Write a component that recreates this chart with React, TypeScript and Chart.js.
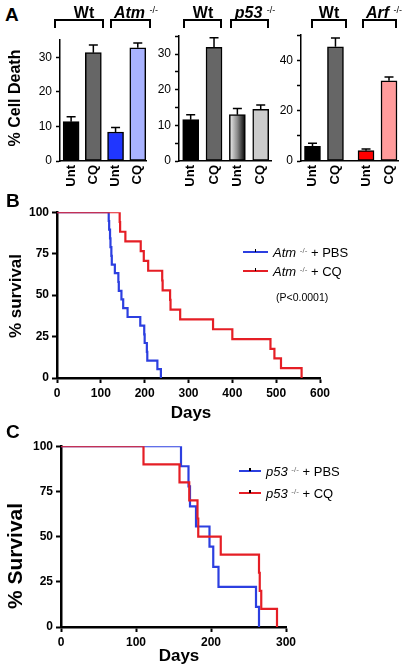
import React, { useEffect, useRef } from 'react';
import { Chart, registerables } from 'chart.js';

Chart.register(...registerables);

const FONT = '"Liberation Sans", Arial, Helvetica, sans-serif';

// ---------- Panel A data ----------
const barLabels = ['Unt', 'CQ', 'Unt', 'CQ'];
const atmBarValues = [11.4, 31.4, 8.4, 32.8];
const atmBarErrors = [1.4, 2.2, 1.3, 1.4];
const p53BarValues = [11.6, 31.9, 13.0, 14.5];
const p53BarErrors = [1.4, 2.7, 1.7, 1.2];
const arfBarValues = [5.8, 45.4, 4.1, 31.9];
const arfBarErrors = [1.3, 3.5, 0.7, 1.5];

// ---------- Panel B data (Kaplan-Meier) ----------
const atmPbsDays = [0, 118, 119, 121, 122, 124, 125, 132, 140, 141, 147, 151, 161, 190, 199, 200, 205, 206, 229, 237];
const atmPbsSurv = [100, 94.7, 89.5, 84.2, 78.9, 73.7, 68.4, 63.2, 57.9, 52.6, 47.4, 42.1, 36.8, 31.6, 26.3, 21.1, 15.8, 10.5, 5.3, 0];
const atmCqDays = [0, 143, 144, 156, 191, 198, 208, 240, 241, 258, 259, 281, 356, 400, 487, 496, 511, 558];
const atmCqSurv = [100, 94.1, 88.2, 82.4, 76.5, 70.6, 64.7, 58.8, 52.9, 47.1, 41.2, 35.3, 29.4, 23.5, 17.6, 11.8, 5.9, 0];

// ---------- Panel C data (Kaplan-Meier) ----------
const p53PbsDays = [0, 160, 170, 172, 180, 198, 203, 210, 260, 264];
const p53PbsSurv = [100, 88.9, 77.8, 66.7, 55.6, 44.4, 33.3, 22.2, 11.1, 0];
const p53CqDays = [0, 110, 158, 171, 182, 183, 213, 264, 265, 267, 288];
const p53CqSurv = [100, 90, 80, 70, 60, 50, 40, 30, 20, 10, 0];

const BLUE = '#2c3fe0';
const RED = '#e51e25';

type Rect = { l: number; t: number; r: number; b: number };

function frameOf(plot: Rect, yW: number, xH: number, pad: Rect) {
  const x = plot.l - yW - pad.l;
  const y = plot.t - pad.t;
  return { x, y, w: plot.r + pad.r - x, h: plot.b + xH + pad.b - y };
}

const errorBarPlugin = {
  id: 'errorBars',
  afterDatasetsDraw(chart: any) {
    const ds = chart.data.datasets[0];
    if (!ds || !ds.errors) return;
    const meta = chart.getDatasetMeta(0);
    const ys = chart.scales.y;
    const ctx = chart.ctx;
    ctx.save();
    ctx.strokeStyle = '#000';
    ctx.lineWidth = 1.5;
    meta.data.forEach((el: any, i: number) => {
      const v = ds.data[i].y;
      const top = ys.getPixelForValue(v + ds.errors[i]);
      ctx.beginPath();
      ctx.moveTo(el.x, el.y);
      ctx.lineTo(el.x, top);
      ctx.moveTo(el.x - 4.5, top);
      ctx.lineTo(el.x + 4.5, top);
      ctx.stroke();
    });
    ctx.restore();
  },
};

function makeBarConfig(p: any) {
  const positions = barLabels.map((_, i) => i + 1 + (i >= 2 ? p.groupGap : 0));
  return {
    type: 'bar',
    data: {
      datasets: [
        {
          data: p.values.map((v: number, i: number) => ({ x: positions[i], y: v })),
          errors: p.errors,
          backgroundColor: (c: any) => {
            const col = p.colors[c.dataIndex];
            if (col !== 'gradient') return col;
            const xs = c.chart.scales && c.chart.scales.x;
            if (!xs) return '#888';
            const cx = xs.getPixelForValue(positions[c.dataIndex]);
            const g = c.chart.ctx.createLinearGradient(cx - 8, 0, cx + 8, 0);
            g.addColorStop(0, '#f2f2f2');
            g.addColorStop(0.5, '#8a8a8a');
            g.addColorStop(1, '#000000');
            return g;
          },
          borderColor: '#000',
          borderWidth: 1.5,
          borderSkipped: false,
          barThickness: 16,
        },
      ],
    },
    options: {
      responsive: false,
      animation: false,
      events: [],
      layout: { padding: { left: p.pad.l, top: p.pad.t, right: p.pad.r, bottom: p.pad.b } },
      plugins: { legend: { display: false }, tooltip: { enabled: false } },
      scales: {
        x: {
          type: 'linear',
          bounds: 'data',
          min: 0.5,
          max: p.xMax,
          offset: false,
          afterBuildTicks: (s: any) => {
            s.ticks = positions.map((v) => ({ value: v }));
          },
          afterFit: (s: any) => {
            s.height = p.xH;
          },
          grid: { display: true, drawOnChartArea: false, drawTicks: false, offset: false },
          border: { display: true, color: '#000', width: 1.5 },
          ticks: {
            autoSkip: false,
            minRotation: 90,
            maxRotation: 90,
            padding: 4,
            color: '#000',
            font: { family: FONT, size: 13, weight: 'bold' },
            callback: (_v: any, i: number) => barLabels[i],
          },
        },
        y: {
          min: 0,
          max: p.yMax,
          afterFit: (s: any) => {
            s.width = p.yW;
          },
          grid: { drawOnChartArea: false, drawTicks: true, tickLength: 4, tickWidth: 1.5, tickColor: '#000' },
          border: { display: true, color: '#000', width: 1.5 },
          ticks: {
            stepSize: p.yStep,
            padding: 4,
            color: '#000',
            font: { family: FONT, size: 12 },
            callback: (v: number) => (v % p.labelEvery === 0 ? String(v) : ''),
          },
        },
      },
    },
    plugins: [errorBarPlugin],
  };
}

function makeKmConfig(p: any) {
  return {
    type: 'line',
    data: {
      datasets: p.series.map((s: any) => ({
        data: s.days.map((d: number, i: number) => ({ x: d, y: s.surv[i] })),
        borderColor: s.color,
        borderWidth: 2.2,
        stepped: 'before',
        pointRadius: 0,
        fill: false,
        order: s.order,
      })),
    },
    options: {
      responsive: false,
      animation: false,
      events: [],
      layout: { padding: { left: p.pad.l, top: p.pad.t, right: p.pad.r, bottom: p.pad.b } },
      plugins: { legend: { display: false }, tooltip: { enabled: false } },
      scales: {
        x: {
          type: 'linear',
          min: 0,
          max: p.xMax,
          afterFit: (s: any) => {
            s.height = p.xH;
          },
          grid: { drawOnChartArea: false, drawTicks: true, tickLength: 5, tickWidth: 2, tickColor: '#000' },
          border: { display: true, color: '#000', width: 2.5 },
          ticks: {
            stepSize: 100,
            padding: 3,
            maxRotation: 0,
            color: '#000',
            font: { family: FONT, size: 12, weight: 'bold' },
          },
        },
        y: {
          min: 0,
          max: 100,
          afterFit: (s: any) => {
            s.width = p.yW;
          },
          grid: { drawOnChartArea: false, drawTicks: true, tickLength: 5, tickWidth: 2, tickColor: '#000' },
          border: { display: true, color: '#000', width: 2.5 },
          ticks: {
            stepSize: 25,
            padding: 3,
            color: '#000',
            font: { family: FONT, size: 12, weight: 'bold' },
          },
        },
      },
    },
  };
}

function ChartCanvas({ plot, yW, xH, pad, build }: any) {
  const ref = useRef<HTMLCanvasElement>(null);
  const f = frameOf(plot, yW, xH, pad);
  useEffect(() => {
    const chart = new Chart(ref.current as HTMLCanvasElement, build() as any);
    return () => chart.destroy();
  }, []);
  return (
    <canvas
      ref={ref}
      width={f.w}
      height={f.h}
      style={{ position: 'absolute', left: f.x, top: f.y, width: f.w, height: f.h }}
    />
  );
}

function Txt({ x, y, size, bold, italic, anchor, children }: any) {
  const style: any = {
    position: 'absolute',
    left: x,
    top: y - 0.49 * size,
    fontSize: size,
    lineHeight: size + 'px',
    fontWeight: bold ? 'bold' : 'normal',
    fontStyle: italic ? 'italic' : 'normal',
    whiteSpace: 'nowrap',
  };
  if (anchor === 'middle') style.transform = 'translateX(-50%)';
  return <div style={style}>{children}</div>;
}

function VTxt({ x, y, size, children }: any) {
  return (
    <div
      style={{
        position: 'absolute',
        left: x,
        top: y,
        fontSize: size,
        lineHeight: size + 'px',
        fontWeight: 'bold',
        whiteSpace: 'nowrap',
        transform: 'translate(-50%,-50%) rotate(-90deg)',
      }}
    >
      {children}
    </div>
  );
}

function Sup({ size, color, lift }: any) {
  return (
    <span style={{ fontSize: size, position: 'relative', top: -lift, color: color || '#000', fontWeight: 'normal', fontStyle: 'normal' }}>
      -/-
    </span>
  );
}

function Bracket({ x1, x2 }: any) {
  return (
    <div
      style={{
        position: 'absolute',
        left: x1,
        top: 19,
        width: x2 - x1,
        height: 9,
        borderTop: '2.5px solid #000',
        borderLeft: '2.5px solid #000',
        borderRight: '2.5px solid #000',
        boxSizing: 'border-box',
      }}
    />
  );
}

function LegendItem({ x, y, w, color, children }: any) {
  return (
    <>
      <div style={{ position: 'absolute', left: x, top: y - 1, width: w, height: 2.2, background: color }} />
      <div style={{ position: 'absolute', left: x + w / 2 - 0.75, top: y - 3.5, width: 1.5, height: 3, background: '#000' }} />
      <Txt x={x + w + 5} y={y} size={13}>
        {children}
      </Txt>
    </>
  );
}

const padA = { l: 2, t: 8, r: 6, b: 2 };
const padA3 = { l: 2, t: 8, r: 4, b: 2 };
const padKM = { l: 4, t: 10, r: 16, b: 4 };

export default function App() {
  return (
    <div
      style={{
        position: 'absolute',
        left: 0,
        top: 0,
        width: 410,
        height: 670,
        background: '#fff',
        overflow: 'hidden',
        fontFamily: FONT,
        color: '#000',
      }}
    >
      <ChartCanvas
        plot={{ l: 60, t: 37, r: 152, b: 161 }}
        yW={34}
        xH={40}
        pad={padA}
        build={() =>
          makeBarConfig({
            values: atmBarValues,
            errors: atmBarErrors,
            colors: ['#000000', '#666666', '#2036ff', '#a9b3ff'],
            yMax: 35,
            yStep: 5,
            labelEvery: 10,
            groupGap: 0,
            xMax: 4.4,
            yW: 34,
            xH: 40,
            pad: padA,
          })
        }
      />
      <ChartCanvas
        plot={{ l: 179, t: 33, r: 275, b: 161 }}
        yW={34}
        xH={40}
        pad={padA}
        build={() =>
          makeBarConfig({
            values: p53BarValues,
            errors: p53BarErrors,
            colors: ['#000000', '#666666', 'gradient', '#cccccc'],
            yMax: 35,
            yStep: 5,
            labelEvery: 10,
            groupGap: 0,
            xMax: 4.45,
            yW: 34,
            xH: 40,
            pad: padA,
          })
        }
      />
      <ChartCanvas
        plot={{ l: 301, t: 32, r: 405, b: 161 }}
        yW={34}
        xH={40}
        pad={padA3}
        build={() =>
          makeBarConfig({
            values: arfBarValues,
            errors: arfBarErrors,
            colors: ['#000000', '#666666', '#ff0000', '#ff9b9b'],
            yMax: 50,
            yStep: 10,
            labelEvery: 20,
            groupGap: 0.33,
            xMax: 4.75,
            yW: 34,
            xH: 40,
            pad: padA3,
          })
        }
      />
      <ChartCanvas
        plot={{ l: 57, t: 212, r: 320, b: 378 }}
        yW={40}
        xH={26}
        pad={padKM}
        build={() =>
          makeKmConfig({
            series: [
              { days: atmPbsDays, surv: atmPbsSurv, color: BLUE, order: 1 },
              { days: atmCqDays, surv: atmCqSurv, color: RED, order: 0 },
            ],
            xMax: 600,
            yW: 40,
            xH: 26,
            pad: padKM,
          })
        }
      />
      <ChartCanvas
        plot={{ l: 61, t: 446, r: 286, b: 627 }}
        yW={40}
        xH={26}
        pad={padKM}
        build={() =>
          makeKmConfig({
            series: [
              { days: p53PbsDays, surv: p53PbsSurv, color: BLUE, order: 1 },
              { days: p53CqDays, surv: p53CqSurv, color: RED, order: 0 },
            ],
            xMax: 300,
            yW: 40,
            xH: 26,
            pad: padKM,
          })
        }
      />

      {/* Panel letters */}
      <Txt x={5} y={14} size={19} bold>A</Txt>
      <Txt x={6} y={200} size={19} bold>B</Txt>
      <Txt x={6} y={431} size={19} bold>C</Txt>

      {/* Axis titles */}
      <VTxt x={15} y={98} size={16}>% Cell Death</VTxt>
      <VTxt x={15} y={296} size={17}>% survival</VTxt>
      <VTxt x={14} y={556} size={21}>% Survival</VTxt>
      <Txt x={191} y={412} size={17} bold anchor="middle">Days</Txt>
      <Txt x={179} y={655} size={17} bold anchor="middle">Days</Txt>

      {/* Group brackets & labels */}
      <Bracket x1={54} x2={104} />
      <Bracket x1={110} x2={151} />
      <Bracket x1={183} x2={222} />
      <Bracket x1={230} x2={269} />
      <Bracket x1={311} x2={347} />
      <Bracket x1={362} x2={397} />
      <Txt x={84} y={13} size={16} bold anchor="middle">Wt</Txt>
      <Txt x={136} y={13} size={16} bold anchor="middle">
        <i>Atm</i> <Sup size={9} lift={5} />
      </Txt>
      <Txt x={203} y={13} size={16} bold anchor="middle">Wt</Txt>
      <Txt x={255} y={13} size={16} bold anchor="middle">
        <i>p53</i> <Sup size={9} lift={5} />
      </Txt>
      <Txt x={329} y={13} size={16} bold anchor="middle">Wt</Txt>
      <Txt x={384} y={13} size={16} bold anchor="middle">
        <i>Arf</i> <Sup size={9} lift={5} />
      </Txt>

      {/* Legends */}
      <LegendItem x={243} y={252} w={25} color={BLUE}>
        <i>Atm</i> <Sup size={8} lift={4} color="#666" /> + PBS
      </LegendItem>
      <LegendItem x={243} y={271} w={25} color={RED}>
        <i>Atm</i> <Sup size={8} lift={4} color="#666" /> + CQ
      </LegendItem>
      <Txt x={276} y={297} size={10.5}>(P&lt;0.0001)</Txt>

      <LegendItem x={239} y={471} w={22} color={BLUE}>
        <i>p53</i> <Sup size={8} lift={4} color="#666" /> + PBS
      </LegendItem>
      <LegendItem x={239} y={493} w={22} color={RED}>
        <i>p53</i> <Sup size={8} lift={4} color="#666" /> + CQ
      </LegendItem>
    </div>
  );
}
